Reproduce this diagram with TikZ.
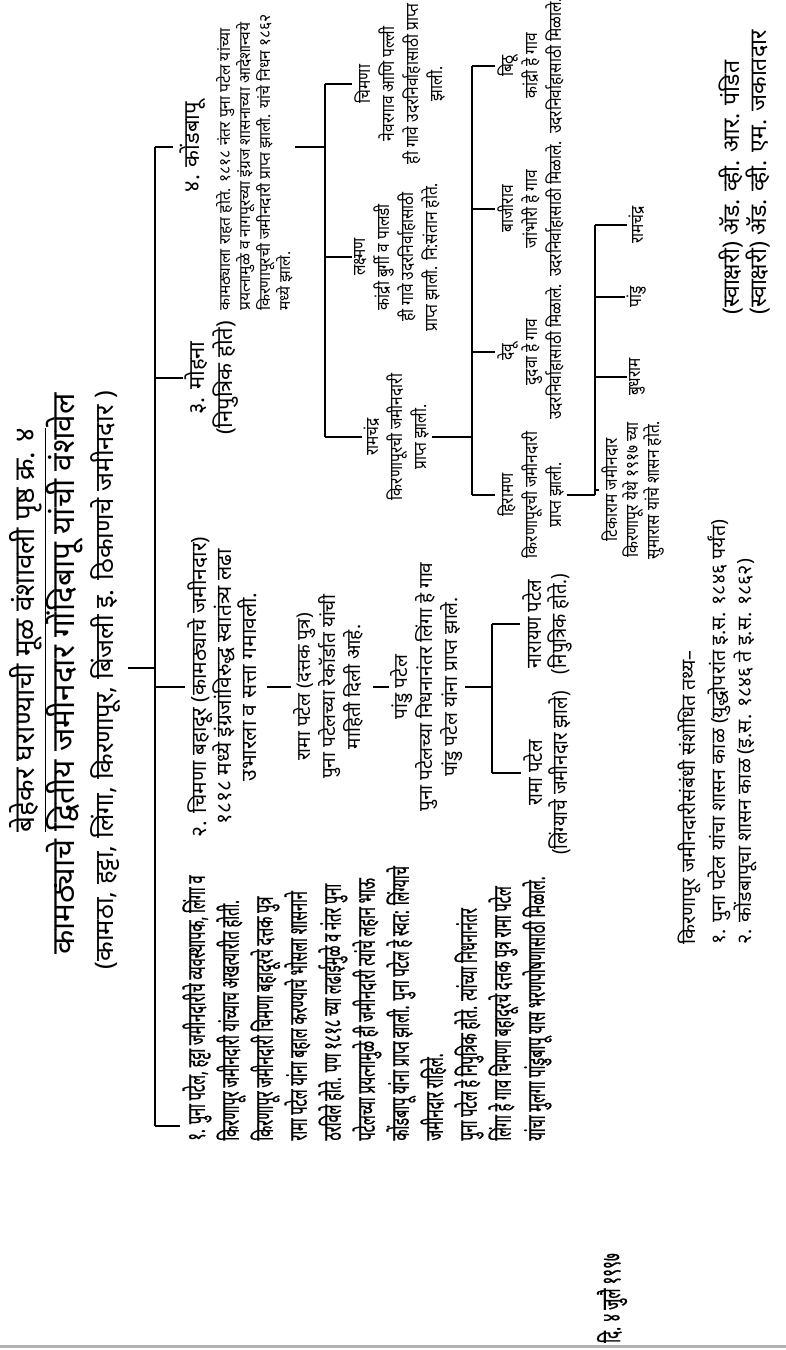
\documentclass[tikz,border=0pt]{standalone}
\usepackage{fontspec}
\setmainfont{Noto Sans}[Script=Devanagari]
\newfontfamily\condfont{Noto Sans}[Script=Devanagari, FakeStretch=0.58, FakeBold=0.6]
\newfontfamily\narrowfont{Noto Sans}[Script=Devanagari, FakeStretch=0.88]
\usetikzlibrary{positioning}
\tikzset{
  leg/.style={line width=1pt},
  bar/.style={line width=0.6pt},
  lbl/.style={align=center, inner sep=1pt, font=\fontsize{9}{12}\selectfont},
  leaf/.style={lbl, font=\narrowfont\fontsize{8.8}{12}\selectfont},
  para/.style={align=left, inner sep=1pt},
}

\begin{document}
\begin{tikzpicture}[x=0.5pt,y=-0.5pt,every node/.append style={rotate=90}]
\useasboundingbox (0,0) rectangle (786,1350);
\node[font=\fontsize{14}{16}\selectfont] (behekar) at (28,630) {\underline{बेहेकर घराण्याची मूळ वंशावली पृष्ठ क्र. ४}};
\node[font=\bfseries\fontsize{15.8}{18}\selectfont] (kamtha) at (65,674) {कामठ्याचे द्वितीय जमीनदार गोंदिबापू यांची वंशवेल};
\node[font=\bfseries\fontsize{12.8}{15}\selectfont] (places) at (106,680) {(कामठा, हट्टा, लिंगा, किरणापूर, बिंजली इ. ठिकाणचे जमीनदार )};
\coordinate (topbar) at (155,0);

\node[para, anchor=north west, font=\condfont\fontsize{12.5}{17}\selectfont] (puna) at (180,1143) {१. पुना पटेल, हट्टा जमीनदारीचे व्यवस्थापक, लिंगा व\\
किरणापूर जमीनदारी यांच्याच अखत्यारीत होती.\\
किरणापूर  जमीनदारी चिमणा बहादूरचे दत्तक पुत्र\\
रामा पटेल यांना बहाल करण्याचे भोसला शासनाने\\
ठरविले होते. पण १८१८ च्या लढाईमुळे व नंतर पुना\\
पटेलच्या प्रयत्नामुळे ही जमीनदारी त्यांचे लहान भाऊ\\
कोंडबापू यांना प्राप्त झाली. पुना पटेल हे स्वत: लिंग्याचे\\
जमीनदार राहिले.\\
पुना पटेल हे निपुत्रिक होते. त्यांच्या निधनानंतर\\
लिंगा हे गाव चिमणा बहादूरचे दत्तक पुत्र रामा पटेल\\
यांचा मुलगा पांडुबापू यास भरणपोषणासाठी मिळाले.};

\node[lbl, font=\fontsize{10.5}{12.5}\selectfont] (chimna) at (222,687) {२. चिमणा बहादूर (कामठ्याचे जमीनदार)\\१८१८ मध्ये इंग्रजांविरुद्ध स्वातंत्र्य लढा\\उभारला व सत्ता गमावली.};
\node[lbl, font=\fontsize{9.5}{12.5}\selectfont] (ramdattak) at (328,687) {रामा पटेल (दत्तक पुत्र)\\पुना पटेलच्या रेकॉर्डात यांची\\माहिती दिली आहे.};
\node[lbl, font=\fontsize{9.5}{12.5}\selectfont] (pandu) at (427,687) {पांडु पटेल\\पुना पटेलच्या निधनानंतर लिंगा हे गाव\\पांडु पटेल यांना प्राप्त झाले.};
\node[lbl, font=\narrowfont\fontsize{10.5}{12.5}\selectfont] (ramleaf) at (547,773) {रामा पटेल\\(लिंग्याचे जमीनदार झाले)};
\node[lbl, font=\narrowfont\fontsize{10.5}{12.5}\selectfont] (narayan) at (547,624) {नारायण पटेल\\(निपुत्रिक होते.)};

\node[lbl, font=\fontsize{11}{14}\selectfont] (mohana) at (212,378) {३. मोहना\\(निपुत्रिक होते)};
\node[font=\fontsize{11}{14}\selectfont] (kond) at (193,147) {४. कोंडबापू};
\node[para, anchor=north west, font=\fontsize{7.8}{10}\selectfont] (kondtext) at (214,313) {कामठ्याला राहत होते. १८१८ नंतर पुना पटेल यांच्या\\
प्रयत्नामुळे व नागपूरच्या इंग्रज शासनाच्या आदेशान्वये\\
किरणापूरची जमीनदारी प्राप्त झाली. यांचे निधन १८६२\\
मध्ये झाले.};

\node[leaf] (chimna2) at (400,84) {चिमणा\\नेवरगाव आणि पल्ली\\ही गावे उदरनिर्वाहासाठी प्राप्त\\झाली.};
\node[leaf] (laxman) at (397,257) {लक्ष्मण\\कांद्री बुर्गी व पालडी\\ही गावे उदरनिर्वाहासाठी\\प्राप्त झाली. नि:संतान होते.};
\node[leaf] (ramchandra) at (397,437) {रामचंद्र\\किरणापूरची जमीनदारी\\प्राप्त झाली.};

\node[leaf] (bithu) at (531,66) {बिठू\\कांद्री हे गाव\\उदरनिर्वाहासाठी मिळाले.};
\node[leaf] (bajirao) at (531,209) {बाजीराव\\जांभोरी हे गाव\\उदरनिर्वाहासाठी मिळाले.};
\node[leaf] (devu) at (531,352) {देवू\\दुदवा हे गाव\\उदरनिर्वाहासाठी मिळाले.};
\node[leaf] (hiraman) at (531,495) {हिरामण\\किरणापूरची जमीनदारी\\प्राप्त झाली.};

\node[leaf, font=\narrowfont\fontsize{8.8}{10.5}\selectfont] (tikaram) at (633,490) {टिकाराम जमीनदार\\किरणापूर येथे १९१७ च्या\\सुमारास यांचे शासन होते.};
\node[leaf] (budhram) at (637,377) {बुधराम};
\node[leaf] (pandu2) at (637,297) {पांडु};
\node[leaf] (ramch2) at (637,225) {रामचंद्र};

\node[para, anchor=north west, font=\fontsize{9.8}{13}\selectfont] (notes) at (676,947) {किरणापूर जमीनदारीसंबंधी संशोधित तथ्य–\\[2pt]
१. पुना पटेल यांचा शासन काळ (युद्धोपरांत इ.स. १८४६ पर्यंत)\\
२. कोंडबापूचा शासन काळ (इ.स. १८४६ ते इ.स. १८६२)};
\node[font=\condfont\fontsize{13}{14}\selectfont] (date) at (612,1298) {दि. ४ जुलै १९९७};
\node[para, anchor=north west, font=\bfseries\fontsize{11.5}{13.5}\selectfont] (sign) at (716,317) {(स्वाक्षरी) ॲड. व्ही. आर. पंडित\\
(स्वाक्षरी) ॲड. व्ही. एम. जकातदार};

\draw[leg] (places.south) ++(0,-12) coordinate (rt) -- (rt -| topbar);
\draw[leg] (puna.north west) ++(0,-17) coordinate (pleg) -- (pleg -| topbar);
\draw[bar] (pleg -| topbar) -- (kond.north -| topbar);
\foreach \n in {chimna,mohana,kond}
\draw[leg] (\n.north -| topbar) -- (\n.north);

\draw[leg, shorten <=4pt] (chimna.south) -- (ramdattak.north);
\draw[leg, shorten <=4pt] (ramdattak.south) -- (pandu.north);
\coordinate (pbar) at (492,0);
\draw[leg] (pandu.south) -- (pandu.south -| pbar);
\draw[bar] (ramleaf.north -| pbar) -- (narayan.north -| pbar);
\foreach \n in {ramleaf,narayan}
\draw[leg] (\n.north -| pbar) -- (\n.north);

\coordinate (kbar) at (325,0);
\draw[leg] (kond.south -| kondtext.south) -- (kond.south -| kbar);
\draw[bar] (chimna2.north -| kbar) -- (ramchandra.north -| kbar);
\foreach \n in {chimna2,laxman,ramchandra}
\draw[leg] (\n.north -| kbar) -- (\n.north);

\coordinate (rbar) at (472,0);
\draw[leg] (ramchandra.south) -- (ramchandra.south -| rbar);
\draw[bar] (bithu.north -| rbar) -- (hiraman.north -| rbar);
\foreach \n in {bithu,bajirao,devu,hiraman}
\draw[leg] (\n.north -| rbar) -- (\n.north);

\coordinate (hbar) at (595,0);
\draw[leg] (hiraman.south) -- (hiraman.south -| hbar);
\draw[bar] (ramch2.north -| hbar) -- (hiraman.south -| hbar);
\foreach \n in {tikaram,budhram,pandu2,ramch2}
\draw[leg] (\n.north -| hbar) -- (\n.north);

\draw[gray!60, line width=1.5pt] (0,1346) -- (786,1346);
\end{tikzpicture}
\end{document}
